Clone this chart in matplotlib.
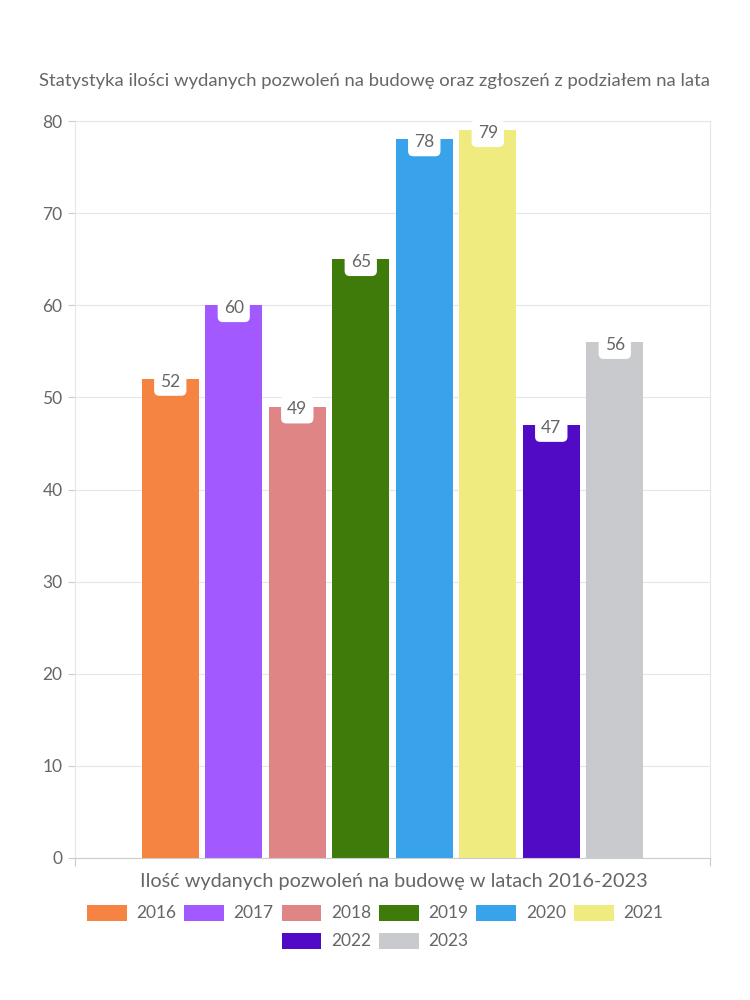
import matplotlib
matplotlib.use("Agg")
import matplotlib.pyplot as plt
from matplotlib.patches import Patch

years = ["2016", "2017", "2018", "2019", "2020", "2021", "2022", "2023"]
values = [52, 60, 49, 65, 78, 79, 47, 56]
colors = ["#F58442", "#A259FF", "#E08585", "#3E7B0B", "#38A3EA", "#EFEB7E", "#520BC4", "#C9CACE"]
yticks = [0, 10, 20, 30, 40, 50, 60, 70, 80]
title = "Statystyka ilości wydanych pozwoleń na budowę oraz zgłoszeń z podziałem na lata"
xlabel = "Ilość wydanych pozwoleń na budowę w latach 2016-2023"

plt.rcParams['font.family'] = ['Lato', 'DejaVu Sans']
TXT = "#666666"

fig = plt.figure(figsize=(7.5, 10), dpi=100)
ax = fig.add_axes([0.1, 0.142, 0.8467, 0.737])

xs = list(range(len(years)))
bars = ax.bar(xs, values, width=0.9, color=colors, zorder=2)

for x, v in zip(xs, values):
    ax.annotate(str(v), (x, v), xytext=(0, -2), textcoords="offset points",
                ha="center", va="center", fontsize=12.5, color=TXT, zorder=4,
                bbox=dict(boxstyle="round,pad=0.35,rounding_size=0.3", fc="white", ec="none"))

ax.set_xlim(-1.5, 8.5)
ax.set_ylim(0, 80)
ax.set_yticks(yticks)
ax.set_yticklabels([str(t) for t in yticks], fontsize=12.5, color=TXT)
ax.tick_params(axis="y", length=5, color="#cccccc", width=0.8, pad=4)
ax.set_xticks([-1.5, 8.5])
ax.set_xticklabels([])
ax.tick_params(axis="x", length=6, color="#cccccc", width=0.8)
ax.grid(axis="y", color="#e6e6e6", linewidth=0.8, zorder=0)
for s in ["left", "right", "top"]:
    ax.spines[s].set_color("#e6e6e6")
    ax.spines[s].set_linewidth(0.8)
ax.spines["bottom"].set_color("#cccccc")
ax.spines["bottom"].set_linewidth(0.8)
ax.set_axisbelow(True)

fig.text(0.499, 0.919, title, ha="center", va="center", fontsize=13.3, color=TXT)
fig.text(0.525, 0.119, xlabel, ha="center", va="center", fontsize=14.3, color=TXT)

handles = [Patch(facecolor=c, edgecolor="none", label=y) for c, y in zip(colors, years)]
kw = dict(frameon=False, fontsize=12.5, handlelength=2.3, handleheight=1.05,
          columnspacing=0.45, handletextpad=0.55, labelcolor=TXT)
leg1 = fig.legend(handles=handles[:6], loc="center", bbox_to_anchor=(0.5, 0.087), ncol=6, **kw)
leg2 = fig.legend(handles=handles[6:], loc="center", bbox_to_anchor=(0.5, 0.059), ncol=2, **kw)

fig.savefig("out.png", dpi=100, facecolor="white")
